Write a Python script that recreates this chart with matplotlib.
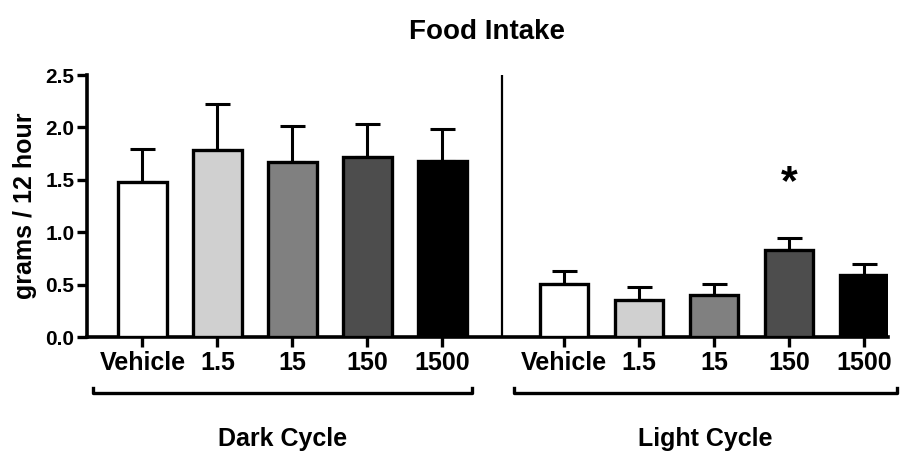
import numpy as np
import matplotlib
matplotlib.use('Agg')
from matplotlib import pyplot as plt

plt.rcParams['font.family'] = ['Liberation Sans', 'DejaVu Sans']
plt.rcParams['font.weight'] = 'bold'

doses = ['Vehicle', '1.5', '15', '150', '1500']
colors = ['white', '#d0d0d0', '#808080', '#4d4d4d', 'black']

dark_mean = [1.48, 1.78, 1.67, 1.72, 1.68]
dark_sem = [0.31, 0.44, 0.34, 0.31, 0.30]
light_mean = [0.51, 0.35, 0.40, 0.83, 0.59]
light_sem = [0.12, 0.13, 0.11, 0.11, 0.11]

star_group = 3
star_y = 1.47

dark_x = np.arange(5)
light_x = np.arange(5) + 5.62

fig = plt.figure(figsize=(9.03, 4.54), dpi=100)
ax = fig.add_axes([0.0963, 0.2577, 0.8871, 0.5771])

barw = 0.65
for xs, means, sems in [(dark_x, dark_mean, dark_sem), (light_x, light_mean, light_sem)]:
    ax.bar(xs, means, width=barw, color=colors, edgecolor='black', linewidth=2.4, zorder=3)
    ax.errorbar(xs, means, yerr=[np.zeros(5), sems], fmt='none', ecolor='black',
                elinewidth=2.2, capsize=9, capthick=2.2, zorder=2)

ax.text(light_x[star_group], star_y, '*', ha='center', va='center', fontsize=31, fontweight='bold')

# divider between cycles
ax.axvline(4.79, ymin=0, ymax=1, color='black', linewidth=1.6)

ax.set_xlim(-0.74, 9.94)
ax.set_ylim(0, 2.5)
ax.set_yticks([0.0, 0.5, 1.0, 1.5, 2.0, 2.5])
ax.set_yticklabels(['0.0', '0.5', '1.0', '1.5', '2.0', '2.5'], fontsize=15, fontweight='bold')
ax.set_xticks(list(dark_x) + list(light_x))
ax.set_xticklabels(doses + doses, fontsize=18, fontweight='bold')
ax.tick_params(axis='x', length=7, width=2.4, pad=3)
ax.tick_params(axis='y', length=7, width=2.4, pad=2)

ax.spines['top'].set_visible(False)
ax.spines['right'].set_visible(False)
ax.spines['left'].set_linewidth(2.6)
ax.spines['bottom'].set_linewidth(2.6)

ax.set_ylabel('grams / 12 hour', fontsize=18, fontweight='bold', labelpad=6)
ax.set_title('Food Intake', fontsize=20, fontweight='bold', pad=26)

# group brackets below axis
trans = matplotlib.transforms.blended_transform_factory(ax.transData, ax.transAxes)
for x0, x1, label in [(-0.66, 4.4, 'Dark Cycle'), (4.96, 10.06, 'Light Cycle')]:
    ax.plot([x0, x0, x1, x1], [-0.195, -0.214, -0.214, -0.195], color='black',
            linewidth=2.4, transform=trans, clip_on=False)
    ax.text((x0 + x1) / 2, -0.39, label, ha='center', va='center', fontsize=18,
            fontweight='bold', transform=trans)

fig.savefig('out.png', dpi=100)
